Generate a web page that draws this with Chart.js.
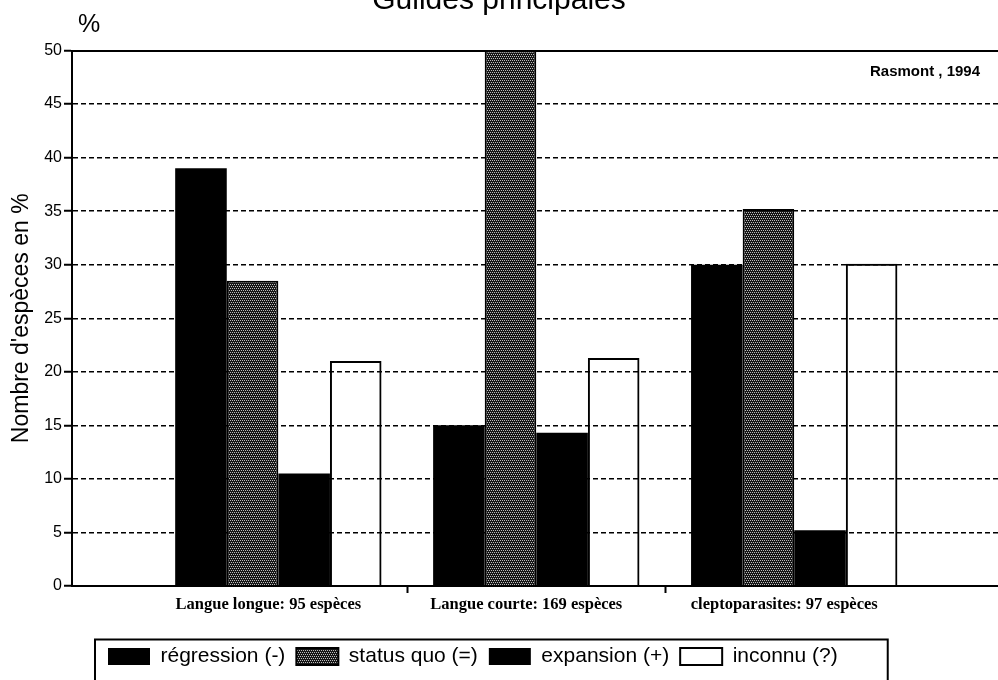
<!DOCTYPE html>
<html>
<head>
<meta charset="utf-8">
<title>Guildes principales</title>
<script src="https://cdn.jsdelivr.net/npm/chart.js@4.4.1/dist/chart.umd.min.js"></script>
<style>
  html, body { margin: 0; padding: 0; background: #fff; overflow: hidden; }
  /* the scan cuts the top of the title off, so the canvas starts a bit above the page */
  #wrap { position: relative; top: -20px; width: 998px; height: 720px; }
</style>
</head>
<body>
<div id="wrap"><canvas id="guildes"></canvas></div>
<script>
const categories = ['Langue longue: 95 espèces', 'Langue courte: 169 espèces', 'cleptoparasites: 97 espèces'];
const positions = [1, 2, 3];
const seriesNames = ['régression (-)', 'status quo (=)', 'expansion (+)', 'inconnu (?)'];
const regression = [39.0, 15.0, 30.0];
const statusQuo = [28.5, 50.0, 35.2];
const expansion = [10.5, 14.3, 5.2];
const inconnu = [21.0, 21.3, 30.1];
const yTicks = [0, 5, 10, 15, 20, 25, 30, 35, 40, 45, 50];
const sourceNote = 'Rasmont , 1994';

const SANS = '"Liberation Sans", Arial, Helvetica, sans-serif';
const SERIF = '"Liberation Serif", "Times New Roman", serif';

// stippled grey used for "status quo"
function stipple() {
    const c = document.createElement('canvas');
    c.width = 4;
    c.height = 4;
    const g = c.getContext('2d');
    g.fillStyle = '#161616';
    g.fillRect(0, 0, 4, 4);
    g.fillStyle = '#bdbdbd';
    [[0, 0], [2, 0], [1, 2], [3, 2]].forEach(p => g.fillRect(p[0], p[1], 1, 1));
    return g.createPattern(c, 'repeat');
}

const toPoints = vals => vals.map((v, i) => ({ x: positions[i], y: v }));

// x range picked so the three groups sit where they do in the scan
const X_MIN = 0.2;
const X_MAX = 3.79;

const notes = {
    id: 'notes',
    afterLayout(chart) {
        // legend row starts inside its frame, not at the canvas edge
        chart.legend.left = 97;
    },
    afterDraw(chart) {
        const { ctx, chartArea } = chart;
        const y = chart.scales.y;
        ctx.save();
        ctx.fillStyle = '#000';
        ctx.textBaseline = 'middle';

        ctx.font = '25px ' + SANS;
        ctx.textAlign = 'left';
        ctx.fillText('%', chartArea.left + 6, chartArea.top - 25);

        ctx.font = 'bold 15px ' + SANS;
        ctx.textAlign = 'right';
        ctx.fillText(sourceNote, chartArea.right - 18, y.getPixelForValue(48.0));

        // frame round the legend
        const boxes = chart.legend.legendHitBoxes;
        if (boxes && boxes.length) {
            const first = boxes[0];
            const last = boxes[boxes.length - 1];
            const mid = first.top + first.height / 2;
            const left = first.left - 13;
            const right = last.left + last.width + 50;
            ctx.lineWidth = 2;
            ctx.strokeStyle = '#000';
            ctx.strokeRect(left, mid - 17, right - left, 80);
        }
        ctx.restore();
    }
};

const ctx = document.getElementById('guildes').getContext('2d');
const guildes = new Chart(ctx, {
    type: 'bar',
    data: {
        datasets: [
            {
                label: seriesNames[0],
                data: toPoints(regression),
                backgroundColor: '#000',
                borderColor: '#000',
                borderWidth: 0
            },
            {
                label: seriesNames[1],
                data: toPoints(statusQuo),
                backgroundColor: stipple(),
                borderColor: '#000',
                borderWidth: 2
            },
            {
                label: seriesNames[2],
                data: toPoints(expansion),
                backgroundColor: '#000',
                borderColor: '#000',
                borderWidth: 0
            },
            {
                label: seriesNames[3],
                data: toPoints(inconnu),
                backgroundColor: 'rgba(255,255,255,0)',
                borderColor: '#000',
                borderWidth: 2
            }
        ]
    },
    options: {
        responsive: true,
        maintainAspectRatio: false,
        animation: false,
        categoryPercentage: 0.8,
        barPercentage: 1.0,
        layout: {
            padding: { top: 0, right: 0, bottom: 23, left: 0 }
        },
        plugins: {
            title: {
                display: true,
                text: 'Guildes principales',
                color: '#000',
                font: { family: SANS, size: 30, weight: 'normal' },
                padding: { top: 2.5, bottom: 32 }
            },
            legend: {
                display: true,
                position: 'bottom',
                align: 'start',
                labels: {
                    color: '#000',
                    font: { family: SANS, size: 21 },
                    boxWidth: 42,
                    boxHeight: 17,
                    padding: 11
                }
            },
            tooltip: { enabled: false }
        },
        scales: {
            x: {
                type: 'linear',
                position: 'bottom',
                min: X_MIN,
                max: X_MAX,
                offset: false,
                afterBuildTicks: s => { s.ticks = positions.map(v => ({ value: v })); },
                afterFit: s => { s.height = 49; },
                ticks: {
                    color: '#000',
                    padding: 2,
                    labelOffset: -10,
                    maxRotation: 0,
                    autoSkip: false,
                    font: { family: SERIF, size: 16.5, weight: 'bold' },
                    callback: (value, index) => categories[index]
                },
                grid: {
                    offset: true,
                    drawOnChartArea: false,
                    drawTicks: true,
                    tickLength: 7,
                    tickWidth: 2,
                    // only the marks between the groups
                    tickColor: c => (c.index > 0 && c.index < positions.length) ? '#000' : 'rgba(0,0,0,0)'
                },
                border: { color: '#000', width: 2 }
            },
            xTop: {
                type: 'linear',
                position: 'top',
                min: X_MIN,
                max: X_MAX,
                ticks: { display: false },
                grid: { display: false, drawTicks: false },
                border: { display: true, color: '#000', width: 2 }
            },
            y: {
                min: 0,
                max: 50,
                afterBuildTicks: s => { s.ticks = yTicks.map(v => ({ value: v })); },
                afterFit: s => { s.width = 72; },
                ticks: {
                    color: '#000',
                    padding: 2,
                    font: { family: SANS, size: 16 }
                },
                grid: {
                    color: '#000',
                    lineWidth: 1.5,
                    tickLength: 8,
                    tickWidth: 2,
                    tickColor: '#000'
                },
                border: { color: '#000', width: 2, dash: [5, 3] },
                title: {
                    display: true,
                    text: "Nombre d'espèces en %",
                    color: '#000',
                    font: { family: SANS, size: 23 },
                    padding: { top: 8, bottom: 8 }
                }
            }
        }
    },
    plugins: [notes]
});
</script>
</body>
</html>
